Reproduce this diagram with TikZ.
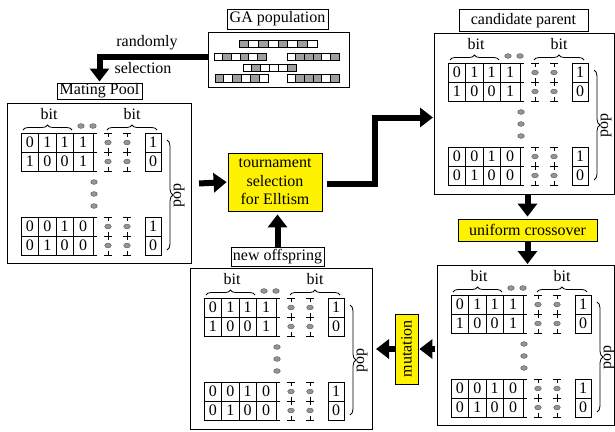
\documentclass[tikz,border=0pt]{standalone}
\usepackage{fontspec}
\setmainfont{Liberation Serif}
\usetikzlibrary{arrows.meta,decorations.pathreplacing,calc}

\definecolor{chg}{gray}{0.62}
\definecolor{chw}{gray}{1}
\definecolor{dotgray}{gray}{0.58}

\tikzset{
  every node/.style={font=\fontsize{16}{18.5}\selectfont, inner sep=0pt},
  box/.style={draw, line width=1pt, anchor=north west},
  lbl/.style={draw, line width=1pt},
  hl/.style={draw, line width=0.8pt, fill=yellow, align=center},
  flow/.style={line width=6pt, line join=miter, -{Triangle[width=19pt,length=13pt]}},
  gridln/.style={line width=1pt},
  bitbrace/.style={decorate, decoration={brace, amplitude=5pt}, line width=0.8pt},
  popbrace/.style={decorate, decoration={brace, amplitude=6pt}, line width=0.8pt},
  dotc/.style={fill=dotgray, draw=black!65, line width=0.4pt},
  chcell/.style={draw, line width=0.8pt}
}

% one chromosome of the GA population: x, y, cell width, list of cell colours
\newcommand\chrom[4]{%
  \foreach \c [count=\i from 0] in {#4}
    \draw[chcell, fill=ch\c] (#1+\i*#3,#2) rectangle ++(#3,7.5);
}

% two rows of bits, top edge at #1, digits #2..#9
\newcommand\generows[9]{%
  \foreach \k in {0,19,38} \draw[gridln] (14,#1+\k) -- (90,#1+\k);
  \foreach \x in {14,31.5,49,66,86} \draw[gridln] (\x,#1) -- (\x,#1+38);
  \node (\gp-#1-a1) at (22.75,#1+9.5) {#2};
  \node (\gp-#1-a2) at (40.25,#1+9.5) {#3};
  \node (\gp-#1-a3) at (57.5,#1+9.5) {#4};
  \node (\gp-#1-a4) at (76,#1+9.5) {#5};
  \node (\gp-#1-b1) at (22.75,#1+28.5) {#6};
  \node (\gp-#1-b2) at (40.25,#1+28.5) {#7};
  \node (\gp-#1-b3) at (57.5,#1+28.5) {#8};
  \node (\gp-#1-b4) at (76,#1+28.5) {#9};
  \foreach \x in {101,120} {
    \foreach \k in {0,19,38} \draw[gridln] (\x-4,#1+\k) -- (\x+4,#1+\k);
    \draw[gridln] (\x,#1) -- (\x,#1+4) (\x,#1+15) -- (\x,#1+23) (\x,#1+34) -- (\x,#1+38);
    \path[dotc] (\x,#1+9.5) ellipse [x radius=3.3pt, y radius=2.4pt]
                (\x,#1+28.5) ellipse [x radius=3.3pt, y radius=2.4pt];
  }
  \draw[gridln] (138,#1) rectangle (154,#1+38) (138,#1+19) -- (154,#1+19);
  \node (\gp-#1-ra) at (146,#1+9.5) {1};
  \node (\gp-#1-rb) at (146,#1+28.5) {0};
}

% contents of a population panel: name prefix, top-left corner
\newcommand\genepanel[2]{%
  \begin{scope}[shift={(#2)}]
    \def\gp{#1}
    \node (#1-bitL) at (42,11) {bit};
    \node (#1-bitR) at (125,11) {bit};
    \draw[bitbrace] (16,27) -- (65,27);
    \draw[bitbrace] (100,27) -- (150,27);
    \path[dotc] (74,23) ellipse [x radius=3.3pt, y radius=2.4pt]
                (86,23) ellipse [x radius=3.3pt, y radius=2.4pt];
    \generows{30}{0}{1}{1}{1}{1}{0}{0}{1}
    \generows{114}{0}{0}{1}{0}{0}{1}{0}{0}
    \path[dotc] (87,79) ellipse [x radius=3.3pt, y radius=2.4pt]
                (87,91) ellipse [x radius=3.3pt, y radius=2.4pt]
                (87,103) ellipse [x radius=3.3pt, y radius=2.4pt];
    \draw[popbrace] (160,37) -- (160,147);
    \node[rotate=90] (#1-pop) at (172,92) {pop};
  \end{scope}}

\begin{document}
\begin{tikzpicture}[x=1pt,y=-1pt]
\useasboundingbox (0,0) rectangle (615,431);

% GA population
\node[lbl, minimum width=101pt, minimum height=20pt] (galbl) at (277.5,19) {GA population};
\node[box, minimum width=141pt, minimum height=55pt] (ga) at (208,32) {};
\chrom{239}{40}{9.75}{g,w,g,w,g,w,g,w}
\chrom{214}{53}{8.67}{w,g,w,g,w,g}
\chrom{287}{53}{8.67}{w,g,g,g,w,g}
\chrom{243}{64}{8.83}{w,g,w,w,w,g}
\chrom{215}{74.5}{8.83}{g,w,g,w,g,w}
\chrom{287}{74.5}{8.67}{w,g,g,g,w,g}

% mating pool
\node[lbl, minimum width=85pt, minimum height=16pt] (mplbl) at (99.5,91) {Mating Pool};
\node[box, minimum width=184pt, minimum height=160pt] (mp) at (7,103) {};
\genepanel{mp}{7,103}

% candidate parent
\node[lbl, minimum width=129pt, minimum height=22pt] (candlbl) at (523.5,20.5) {candidate parent};
\node[box, minimum width=180pt, minimum height=161pt] (cand) at (434,33) {};
\genepanel{cand}{434,33}

% after crossover
\node[box, minimum width=177pt, minimum height=160pt] (br) at (437,265) {};
\genepanel{br}{437,265}

% new offspring
\node[lbl, minimum width=93pt, minimum height=19pt] (offlbl) at (277.5,256.5) {new offspring};
\node[box, minimum width=182pt, minimum height=161pt] (off) at (190,268) {};
\genepanel{off}{190,268}

% operators
\node[hl, minimum width=94pt, minimum height=58pt] (tourn) at (275,182) {tournament\\selection\\for Elltism};
\node[hl, minimum width=139pt, minimum height=22pt] (cross) at (527.5,230) {uniform crossover};
\node[hl, minimum width=70pt, minimum height=23pt, rotate=90] (mut) at (406.5,349) {mutation};

% selection from the population
\node (rnd) at (147,43) {randomly};
\node (sel) at (143,68) {selection};
\draw[flow] ([yshift=3.5pt]ga.west) -| ([yshift=1pt]mplbl.north);

% flow between stages
\draw[flow, shorten >=1pt] ([xshift=7pt]mp.east) -- (tourn.west);
\draw[flow] ([xshift=5pt,yshift=-2pt]tourn.east) -- ++(48,0) |- ([yshift=-3.5pt,xshift=-1pt]cand.west);
\draw[flow] (cross.north |- cand.south) -- ([yshift=2pt]cross.north);
\draw[flow] (cross.south) -- ([yshift=1pt]cross.south |- br.north);
\draw[flow] ([xshift=-2pt]br.west |- mut.south) -- ([xshift=1pt]mut.south);
\draw[flow] (mut.north) -- ([xshift=3pt]mut.north -| off.east);
\draw[flow] (offlbl.north) -- ([yshift=-3pt]offlbl.north |- tourn.south);
\end{tikzpicture}
\end{document}
